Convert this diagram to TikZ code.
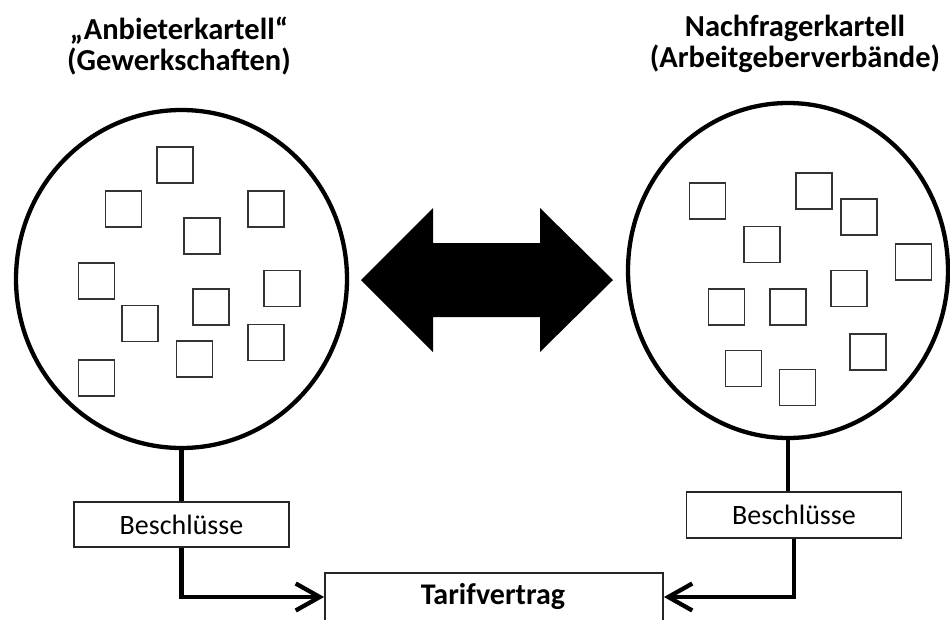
\documentclass[tikz,border=0pt]{standalone}
\usepackage{fontspec}
\setmainfont{Carlito}
\usetikzlibrary{arrows.meta,shapes.geometric}
\begin{document}
\begin{tikzpicture}[x=1pt,y=-1pt,
  bubble/.style={draw,ellipse,line width=4.3pt,inner sep=0pt},
  member/.style={draw=black!80,line width=1.6pt,minimum width=36pt,minimum height=36pt,inner sep=0pt},
  title/.style={font=\bfseries\fontsize{30.5}{30.5}\selectfont,align=center,inner sep=0pt},
  decision/.style={draw=black!85,line width=1.8pt,minimum width=215pt,minimum height=45pt,inner sep=0pt,font=\fontsize{28}{30}\selectfont},
  contract/.style={draw=black!85,line width=1.8pt,minimum width=338pt,minimum height=48pt,inner sep=0pt},
  link/.style={line width=4.3pt},
  flow/.style={line width=4.3pt,-{Straight Barb[length=24pt,width=27pt]}}]
\useasboundingbox[fill=white] (0,0) rectangle (950,619);

% titles
\node[title] (t1) at (179,46) {„Anbieterkartell“\\(Gewerkschaften)};
\node[title] (t2) at (795,44) {Nachfragerkartell\\(Arbeitgeberverbände)};

% cartels
\node[bubble,minimum width=331pt,minimum height=338pt] (c1) at (181.5,279) {};
\node[bubble,minimum width=320pt,minimum height=335pt] (c2) at (788,270.5) {};

% members left
\foreach \n/\p in {1/{(175,165)},2/{(123.5,209)},3/{(266,209)},4/{(202,236)},
  5/{(96.5,281)},6/{(282,288.5)},7/{(211,307)},8/{(140,323.5)},
  9/{(266,342.5)},10/{(194.5,359)},11/{(96.5,378)}}
  \node[member] (l\n) at \p {};

% members right
\foreach \n/\p in {1/{(707.5,201)},2/{(814,191)},3/{(859,217)},4/{(762,244.5)},
  5/{(913.5,262)},6/{(849,288.5)},7/{(726.5,307)},8/{(788,307)},
  9/{(868,352)},10/{(743.5,368.5)},11/{(797.5,387.5)}}
  \node[member] (r\n) at \p {};

% double arrow
\fill (361,280) -- (433,208) -- (433,243) -- (540,243) -- (540,208) -- (613,280)
  -- (540,352) -- (540,317) -- (433,317) -- (433,352) -- cycle;

% decisions
\node[decision] (b1) at (181.5,524.5) {Beschlüsse};
\node[decision,minimum height=46pt] (b2) at (794,515) {Beschlüsse};

% contract
\node[contract] (tv) at (494,597) {};
\node[font=\bfseries\fontsize{30}{32}\selectfont,inner sep=0pt] (tvt) at (493,597) {Tarifvertrag};

% connectors
\draw[link] (c1.south) -- (c1.south |- b1.north);
\draw[link] (c2.south) -- (c2.south |- b2.north);
\draw[flow] (b1.south) |- (tv.west);
\draw[flow] (b2.south) |- (tv.east);
\end{tikzpicture}
\end{document}
